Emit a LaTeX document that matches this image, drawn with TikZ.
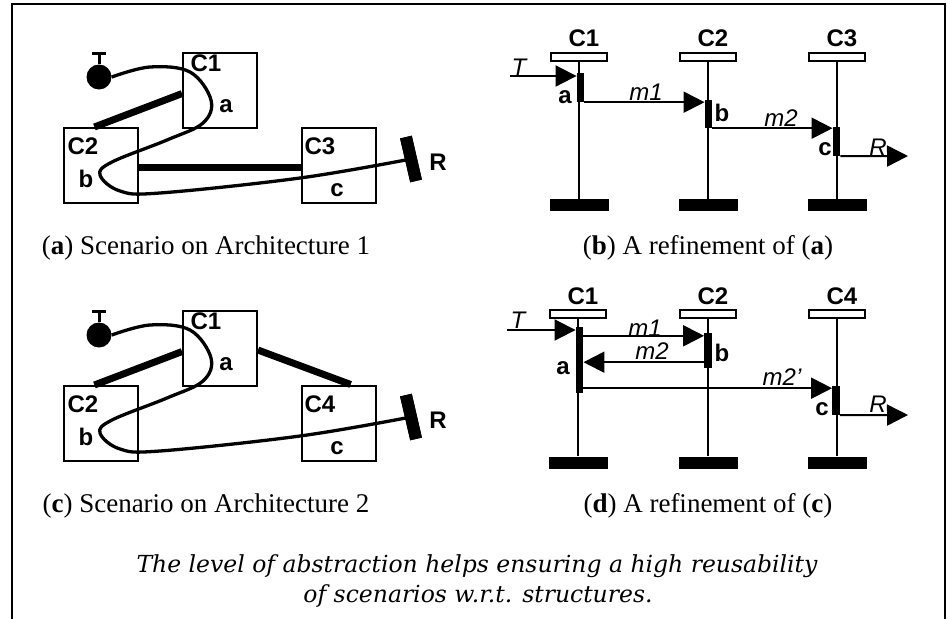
\documentclass[tikz,border=0pt]{standalone}
\usepackage{fontspec}
\setmainfont{Liberation Serif}
\setsansfont{Liberation Sans}
\newfontfamily\notefont{DejaVu Serif}
\usetikzlibrary{arrows.meta,calc}

\begin{document}
\begin{tikzpicture}[x=1pt,y=-1pt,
  comp/.style={draw,line width=2pt,minimum width=74pt,minimum height=75pt,inner sep=0pt},
  link/.style={line width=7pt},
  scen/.style={line width=3.3pt,line join=round},
  tag/.style={font=\sffamily\bfseries\fontsize{24}{24}\selectfont,inner sep=0pt},
  msg/.style={font=\sffamily\itshape\fontsize{24}{24}\selectfont,inner sep=0pt},
  captxt/.style={font=\fontsize{27}{27}\selectfont,inner sep=0pt,anchor=base},
  remark/.style={font=\notefont\itshape\fontsize{23.5}{23.5}\selectfont,inner sep=0pt,anchor=base},
  trig/.style={circle,fill=black,minimum size=25pt,inner sep=0pt},
  resp/.style={fill=black,minimum width=12pt,minimum height=45pt,inner sep=0pt,rotate=13},
  head/.style={draw,fill=white,line width=2pt,minimum width=56pt,minimum height=8pt,inner sep=0pt},
  foot/.style={fill=black,minimum width=59pt,minimum height=12pt,inner sep=0pt},
  life/.style={line width=2.3pt},
  act/.style={fill=black,minimum width=7.5pt,inner sep=0pt},
  msgline/.style={line width=2pt,-{Triangle[length=21pt,width=21pt]}},
]
\useasboundingbox (0,0) rectangle (948,619);

% outer frame, open at the bottom
\draw[line width=2.6pt] (12,619) -- (12,4) -- (945,4) -- (945,619);

% ---------- (a) scenario on architecture 1 ----------
\node[comp] (a1) at (220,90.5) {};
\node[comp] (a2) at (100.5,165.5) {};
\node[comp] (a3) at (338.5,165) {};
\draw[link] ($(a2.north west)!0.42!(a2.north east)$) -- ($(a1.north west)!0.54!(a1.south west)$);
\coordinate (a23) at ($(a2.north east)!0.52!(a2.south east)$);
\draw[link] (a23) -- (a23 -| a3.west);
\node[trig] (at) at (99,77) {};
\draw[line width=3pt] (at.north) -- ++(0,-11) ++(-7,0) -- ++(14,0);
\node[resp] (ar) at (411,159) {};
\draw[scen] plot[smooth,tension=0.6] coordinates {(at.east) (150,67) (190,72) (211,100) (203,123) (167,140) (112,162) (100,175) (120,191) (160,193) (300,178) (ar.center)};
\node[resp] at (ar) {};
\node[tag] (a1n) at (206,63) {C1};
\node[tag] (a1p) at (226,106) {a};
\node[tag] (a2n) at (83,146) {C2};
\node[tag] (a2p) at (86,179) {b};
\node[tag] (a3n) at (320,146) {C3};
\node[tag] (a3p) at (337,190) {c};
\node[tag] (arn) at (438,162) {R};
\node[captxt] (acap) at (206,254) {(\textbf{a}) Scenario on Architecture 1};

% ---------- (c) scenario on architecture 2 ----------
\begin{scope}[shift={(0,258)}]
\node[comp] (c1) at (220,90.5) {};
\node[comp] (c2) at (100.5,165.5) {};
\node[comp] (c4) at (338.5,165) {};
\draw[link] ($(c2.north west)!0.42!(c2.north east)$) -- ($(c1.north west)!0.54!(c1.south west)$);
\draw[link] ($(c1.north east)!0.52!(c1.south east)$) -- ($(c4.north west)!0.66!(c4.north east)$);
\node[trig] (ct) at (99,77) {};
\draw[line width=3pt] (ct.north) -- ++(0,-11) ++(-7,0) -- ++(14,0);
\node[resp] (cr) at (411,159) {};
\draw[scen] plot[smooth,tension=0.6] coordinates {(ct.east) (150,67) (190,72) (211,100) (203,123) (167,140) (112,162) (100,175) (120,191) (160,193) (300,178) (cr.center)};
\node[resp] at (cr) {};
\node[tag] (c1n) at (206,63) {C1};
\node[tag] (c1p) at (226,106) {a};
\node[tag] (c2n) at (83,146) {C2};
\node[tag] (c2p) at (86,179) {b};
\node[tag] (c4n) at (320,146) {C4};
\node[tag] (c4p) at (337,190) {c};
\node[tag] (crn) at (438,162) {R};
\node[captxt] (ccap) at (206,254) {(\textbf{c}) Scenario on Architecture 2};
\end{scope}

% ---------- (b) refinement of (a) ----------
\foreach \n/\x/\t in {1/579/C1,2/708/C2,3/837/C3}{
  \node[head] (bh\n) at (\x,57) {};
  \node[foot] (bf\n) at (\x,205) {};
  \draw[life] (bh\n.south) -- (bf\n.north);
  \node[tag] (bl\n) at (\x+5,38) {\t};
}
\node[act,minimum height=29pt] (ba) at (580.5,87.5) {};
\node[act,minimum height=28pt] (bb) at (708.5,114) {};
\node[act,minimum height=29pt] (bc) at (836.5,141.5) {};
\coordinate (bT) at (510,76);
\coordinate (bR) at (908,156);
\draw[msgline] (bT) -- (bT -| ba.west);
\draw[msgline] (ba.south east) -- (ba.south east -| bb.west);
\draw[msgline] (bb.south east) -- (bb.south east -| bc.west);
\draw[msgline] (bc.south east) -- (bR);
\node[msg] (bTn) at (519,67) {T};
\node[tag] (ban) at (565,97) {a};
\node[msg] (bm1) at (646,92) {m1};
\node[tag] (bbn) at (722,113) {b};
\node[msg] (bm2) at (781,118) {m2};
\node[tag] (bcn) at (825,149) {c};
\node[msg] (bRn) at (878,147) {R};
\node[captxt] (bcap) at (708,254) {(\textbf{b}) A refinement of (\textbf{a})};

% ---------- (d) refinement of (c) ----------
\foreach \n/\x/\t in {1/578/C1,2/708/C2,4/837/C4}{
  \node[head] (dh\n) at (\x,314) {};
  \node[foot] (df\n) at (\x,462.5) {};
  \draw[life] (dh\n.south) -- (df\n.north);
  \node[tag] (dl\n) at (\x+5,296) {\t};
}
\node[act,minimum height=66pt] (da) at (579.5,360) {};
\node[act,minimum height=35pt] (db) at (708,350.5) {};
\node[act,minimum height=29pt] (dc) at (836,400.5) {};
\coordinate (dT) at (507,330);
\coordinate (dR) at (908,415);
\coordinate (dm1) at ($(da.north east)+(0,9)$);
\coordinate (dm2) at ($(db.south west)+(0,-6)$);
\coordinate (dm3) at ($(da.south east)+(0,-5)$);
\draw[msgline] (dT) -- (dT -| da.west);
\draw[msgline] (dm1) -- (dm1 -| db.west);
\draw[msgline] (dm2) -- (dm2 -| da.east);
\draw[msgline] (dm3) -- (dm3 -| dc.west);
\draw[msgline] (dc.south east) -- (dR);
\node[msg] (dTn) at (518,320) {T};
\node[msg] (dm1n) at (645,328) {m1};
\node[msg] (dm2n) at (652,351) {m2};
\node[tag] (dbn) at (722,353) {b};
\node[tag] (dan) at (563,368) {a};
\node[msg] (dm3n) at (782,377) {m2'};
\node[tag] (dcn) at (822,409) {c};
\node[msg] (dRn) at (878,404) {R};
\node[captxt] (dcap) at (708,512) {(\textbf{d}) A refinement of (\textbf{c})};

% ---------- closing remark ----------
\node[remark] (n1) at (477,572) {The level of abstraction helps ensuring a high reusability};
\node[remark] (n2) at (478,602) {of scenarios w.r.t. structures.};
\end{tikzpicture}
\end{document}
